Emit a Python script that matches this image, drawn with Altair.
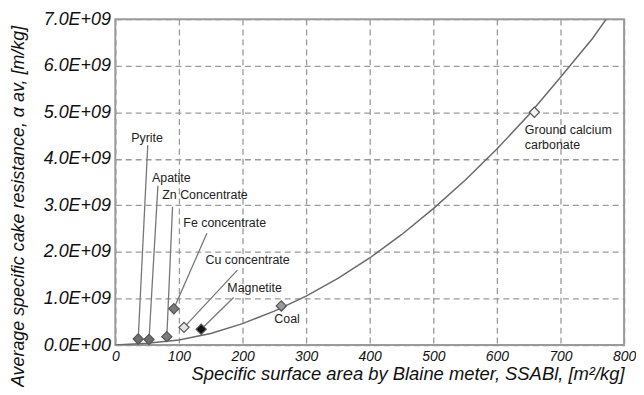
import altair as alt
import pandas as pd

# Measured materials
materials = ["Pyrite", "Apatite", "Zn Concentrate", "Fe concentrate", "Cu concentrate",
             "Magnetite", "Coal", "Ground calcium carbonate"]
ssa = [36, 53, 81, 92, 108, 135, 261, 659]
alpha = [0.13e9, 0.12e9, 0.18e9, 0.78e9, 0.38e9, 0.34e9, 0.84e9, 5.0e9]
fill_colors = ["#6e6e6e", "#6e6e6e", "#7a7a7a", "#7a7a7a", "#e4e4e4", "#111111", "#9a9a9a", "#f2f2f2"]

# Trend curve
curve_x = [0, 50, 100, 150, 200, 250, 300, 350, 400, 450, 500, 550, 600, 650, 700, 750, 772]
curve_y = [0.0, 0.04e9, 0.11e9, 0.25e9, 0.46e9, 0.73e9, 1.05e9, 1.43e9, 1.87e9, 2.37e9,
           2.93e9, 3.54e9, 4.21e9, 4.94e9, 5.75e9, 6.58e9, 7.0e9]

# Label positions (data coords) and leader-line tops
label_x = [50, 88, 141, 172, 208, 219, 270]
label_y = [4.45e9, 3.59e9, 3.22e9, 2.63e9, 1.82e9, 1.23e9, 0.55e9]
leader_x = [51, 67, 90, 144, 192, 186]
leader_y = [4.29e9, 3.42e9, 2.97e9, 2.40e9, 1.61e9, 1.02e9]
gcc_lines = ["Ground calcium", "carbonate"]
gcc_x = [644, 644]
gcc_y = [4.62e9, 4.30e9]

pts = pd.DataFrame({"m": materials, "x": ssa, "y": alpha, "c": fill_colors})
curve = pd.DataFrame({"x": curve_x, "y": curve_y})
labels = pd.DataFrame({"t": materials[:7], "x": label_x, "y": label_y})
leaders = pd.DataFrame({"x": leader_x, "y": leader_y, "x2": ssa[:6], "y2": alpha[:6]})
gcc = pd.DataFrame({"t": gcc_lines, "x": gcc_x, "y": gcc_y})

xs = alt.Scale(domain=[0, 800], nice=False, zero=False)
ys = alt.Scale(domain=[0, 7e9], nice=False)

xaxis = alt.Axis(values=list(range(0, 801, 100)), title="Specific surface area by Blaine meter, SSABl, [m²/kg]",
                 labelFont="Liberation Sans", labelFontSize=14, labelFontStyle="italic", labelColor="#111",
                 titleFont="Liberation Sans", titleFontSize=18.5, titleFontStyle="italic", titleFontWeight="normal",
                 titleColor="#111", titleAnchor="end", titlePadding=1,
                 grid=True, gridColor="#9a9a9a", gridDash=[6, 4], gridWidth=1.3,
                 ticks=False, labelPadding=5, domain=False, labelFlush=False)
yaxis = alt.Axis(values=[i * 1e9 for i in range(8)],
                 labelExpr="datum.value == 0 ? '0.0E+00' : format(datum.value/1e9, '.1f') + 'E+09'",
                 title="Average specific cake resistance, α av, [m/kg]",
                 labelFont="Liberation Sans", labelFontSize=18, labelFontStyle="italic", labelColor="#111",
                 titleFont="Liberation Sans", titleFontSize=18, titleFontStyle="italic", titleFontWeight="normal",
                 titleColor="#111", titleX=-97, titleY=188, titleAngle=270, titleBaseline="middle",
                 grid=True, gridColor="#9a9a9a", gridDash=[6, 4], gridWidth=1.3,
                 ticks=False, labelPadding=5, domain=False)

base_line = alt.Chart(curve).mark_line(color="#6a6a6a", strokeWidth=1.5, clip=True).encode(
    x=alt.X("x:Q", scale=xs, axis=xaxis), y=alt.Y("y:Q", scale=ys, axis=yaxis))

lead = alt.Chart(leaders).mark_rule(color="#777", strokeWidth=1.3).encode(
    x="x:Q", y="y:Q", x2="x2:Q", y2="y2:Q")

points = alt.Chart(pts).mark_point(shape="diamond", filled=True, size=105, stroke="#555",
                                   strokeWidth=1.2, opacity=1).encode(
    x="x:Q", y="y:Q", fill=alt.Fill("c:N", scale=None))

txt = alt.Chart(labels).mark_text(font="Liberation Sans", fontSize=12.5, color="#222").encode(
    x="x:Q", y="y:Q", text="t:N")

gtxt = alt.Chart(gcc).mark_text(font="Liberation Sans", fontSize=12.5, color="#222", align="left").encode(
    x="x:Q", y="y:Q", text="t:N")

chart = alt.layer(base_line, lead, points, txt, gtxt).properties(
    width=512, height=328,
    autosize=alt.AutoSizeParams(type="none"),
    padding={"left": 108, "top": 10, "right": 12, "bottom": 41}
).configure_view(stroke="#9a9a9a", strokeWidth=2)

chart.save("out.html", embed_options={"renderer": "svg", "actions": False})
